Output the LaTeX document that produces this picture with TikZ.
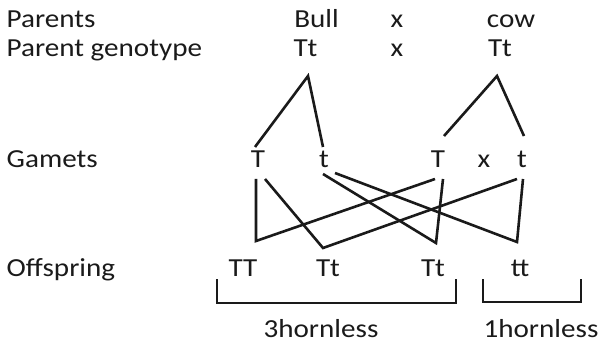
\documentclass[tikz,border=0pt]{standalone}
\usepackage{fontspec}
\setmainfont{Carlito}[FakeStretch=1.12]
\usetikzlibrary{calc}
\definecolor{ink}{HTML}{1A1A1A}
\begin{document}
\begin{tikzpicture}[x=1pt,y=-1pt,
  txt/.style={inner sep=0pt,anchor=base,text=ink,font=\fontsize{26}{30}\selectfont},
  lbl/.style={txt,anchor=base west},
  link/.style={draw=ink,line width=2.6pt,line join=miter}]
\useasboundingbox (0,0) rectangle (601,344);
% row labels
\node[lbl] (lp) at (6.5,28) {Parents};
\node[lbl] (lg) at (6.5,57) {Parent genotype};
\node[lbl] (lgam) at (6.5,168) {Gamets};
\node[lbl] (loff) at (6.5,276) {Offspring};
% parents
\node[txt] (bull) at (316.5,28) {Bull};
\node[txt] (x1) at (397,28) {x};
\node[txt] (cow) at (511,28) {cow};
\node[txt] (pA) at (305.5,57) {Tt};
\node[txt] (x2) at (397,57) {x};
\node[txt] (pB) at (500,57) {Tt};
% gametes
\node[txt] (gA1) at (258,168) {T};
\node[txt] (gA2) at (324,168) {t};
\node[txt] (gB1) at (438,168) {T};
\node[txt] (x3) at (484,168) {x};
\node[txt] (gB2) at (522,168) {t};
% offspring
\node[txt] (o1) at (243,276) {TT};
\node[txt] (o2) at (328,276) {Tt};
\node[txt] (o3) at (433,276) {Tt};
\node[txt] (o4) at (520,276) {tt};
% group labels
\node[txt] (h3) at (321,337) {3hornless};
\node[txt] (h1) at (541,337) {1hornless};
% junction coordinates
\coordinate (apA) at (308,76);
\coordinate (apB) at (497,76);
\coordinate (bA1) at (255,147);
\coordinate (bA2) at (323,147);
\coordinate (bB1) at (444,136);
\coordinate (bB2) at (524,136);
\coordinate (j1) at (256,241);
\coordinate (j2) at (323,248);
\coordinate (j3) at (436,243);
\coordinate (j4) at (517,242);
% parent to gametes
\draw[link] (bA1) -- (apA) -- (bA2);
\draw[link] (bB1) -- (apB) -- (bB2);
% crosses
\draw[link] (256,179) -- (j1) -- (435,179);
\draw[link] (265,179) -- (j2) -- (517,179);
\draw[link] (323,174) -- (j3) -- (443,179);
\draw[link] (335,173) -- (j4) -- (523,179);
% brackets
\draw[link] (217,279) -- (217,303) -- (456,303) -- (456,279);
\draw[link] (483,279) -- (483,302) -- (581,302) -- (581,279);
\end{tikzpicture}
\end{document}
